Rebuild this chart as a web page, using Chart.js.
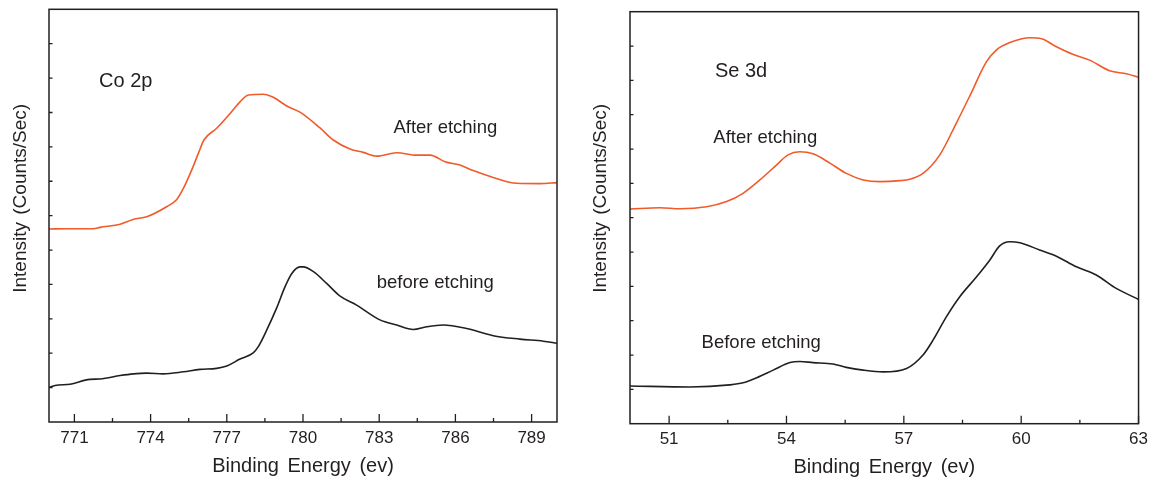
<!DOCTYPE html>
<html>
<head>
<meta charset="utf-8">
<script src="https://cdn.jsdelivr.net/npm/chart.js@4.4.1/dist/chart.umd.min.js"></script>
<style>
html,body{margin:0;padding:0;background:#fff;overflow:hidden}
#wrap{position:relative;width:1153px;height:481px;background:#fff}
canvas{position:absolute;top:0}
#c1{left:0}
#c2{left:576px}
</style>
</head>
<body>
<div id="wrap">
<canvas id="c1" width="576" height="481"></canvas>
<canvas id="c2" width="577" height="481"></canvas>
</div>
<script>
// ---------- Co 2p panel ----------
const coTicks = [771, 774, 777, 780, 783, 786, 789];
const coMinorTicks = [772.5, 775.5, 778.5, 781.5, 784.5, 787.5];
const coAfterEnergy = [770.00, 770.70, 771.74, 772.01, 772.80, 773.31, 773.85, 774.63, 775.03, 775.29, 775.62, 775.88, 776.10, 776.60, 777.13, 777.52, 777.85, 778.44, 778.83, 779.36, 779.88, 780.67, 781.19, 781.85, 782.37, 782.90, 783.69, 784.48, 785.00, 785.59, 786.18, 786.70, 787.49, 788.41, 789.33, 790.00];
const coAfterIntensity = [5.61, 5.62, 5.62, 5.66, 5.75, 5.89, 5.97, 6.26, 6.47, 6.79, 7.33, 7.81, 8.20, 8.54, 8.97, 9.31, 9.51, 9.53, 9.44, 9.19, 9.01, 8.55, 8.20, 7.94, 7.84, 7.73, 7.83, 7.76, 7.76, 7.57, 7.47, 7.31, 7.11, 6.94, 6.93, 6.96];
const coBeforeEnergy = [770.00, 770.24, 770.83, 771.61, 772.01, 772.80, 773.32, 773.85, 774.50, 775.29, 775.94, 776.60, 777.00, 777.52, 778.04, 778.24, 778.57, 778.96, 779.29, 779.56, 779.88, 780.01, 780.41, 780.93, 781.46, 782.11, 783.03, 783.69, 784.34, 784.87, 785.52, 786.44, 787.49, 788.54, 789.46, 790.00];
const coBeforeIntensity = [1.00, 1.06, 1.10, 1.24, 1.25, 1.35, 1.40, 1.42, 1.40, 1.46, 1.53, 1.56, 1.63, 1.83, 2.01, 2.19, 2.67, 3.31, 3.93, 4.32, 4.51, 4.51, 4.37, 4.03, 3.66, 3.40, 2.97, 2.82, 2.69, 2.77, 2.82, 2.72, 2.51, 2.41, 2.35, 2.29];

// ---------- Se 3d panel ----------
const seTicks = [51, 54, 57, 60, 63];
const seMinorTicks = [52.5, 55.5, 58.5, 61.5];
const seAfterEnergy = [50.00, 50.77, 51.28, 51.96, 52.47, 52.89, 53.32, 53.75, 54.04, 54.34, 54.68, 55.11, 55.53, 55.96, 56.39, 56.90, 57.15, 57.49, 57.92, 58.34, 58.68, 59.11, 59.37, 59.71, 60.22, 60.52, 60.90, 61.32, 61.75, 62.26, 62.69, 63.00];
const seAfterIntensity = [6.25, 6.29, 6.26, 6.32, 6.47, 6.71, 7.10, 7.54, 7.83, 7.92, 7.86, 7.59, 7.29, 7.10, 7.05, 7.08, 7.12, 7.29, 7.83, 8.75, 9.53, 10.54, 10.89, 11.10, 11.24, 11.21, 10.98, 10.76, 10.59, 10.28, 10.19, 10.09];
const seBeforeEnergy = [50.00, 51.53, 52.55, 52.89, 53.24, 53.66, 54.09, 54.34, 54.68, 55.19, 55.53, 55.96, 56.47, 57.07, 57.49, 57.75, 58.09, 58.43, 58.86, 59.20, 59.45, 59.71, 59.97, 60.47, 60.90, 61.41, 61.92, 62.43, 63.00];
const seBeforeIntensity = [1.10, 1.07, 1.13, 1.19, 1.34, 1.56, 1.78, 1.81, 1.78, 1.74, 1.64, 1.56, 1.51, 1.61, 2.00, 2.44, 3.12, 3.70, 4.28, 4.77, 5.18, 5.30, 5.27, 5.06, 4.88, 4.57, 4.33, 3.94, 3.62];

const xTitle = 'Binding Energy (ev)';
const yTitle = 'Intensity (Counts/Sec)';

const INK = '#231f20';
const ORANGE = '#f15a29';
const FONT = '"Liberation Sans", Arial, Helvetica, sans-serif';

function framePlugin(deco) {
  return {
    id: 'frame',
    afterDraw(chart) {
      const ctx = chart.ctx;
      const a = chart.chartArea;
      const x = chart.scales.x, y = chart.scales.y;
      ctx.save();
      ctx.strokeStyle = INK;
      ctx.lineWidth = 1.5;
      ctx.strokeRect(a.left, a.top, a.right - a.left, a.bottom - a.top);
      ctx.lineWidth = 1.3;
      ctx.beginPath();
      deco.major.forEach(v => {
        const px = x.getPixelForValue(v);
        ctx.moveTo(px, a.bottom); ctx.lineTo(px, a.bottom - 8);
      });
      deco.minor.forEach(v => {
        const px = x.getPixelForValue(v);
        ctx.moveTo(px, a.bottom); ctx.lineTo(px, a.bottom - 4);
      });
      for (let v = 1; v < 12; v++) {
        const py = y.getPixelForValue(v);
        ctx.moveTo(a.left, py); ctx.lineTo(a.left + 3.5, py);
      }
      ctx.stroke();

      ctx.fillStyle = INK;
      ctx.textAlign = 'left';
      ctx.textBaseline = 'alphabetic';
      deco.notes.forEach(n => {
        ctx.font = n.size + 'px ' + FONT;
        ctx.fillText(n.text, x.getPixelForValue(n.x), y.getPixelForValue(n.y));
      });

      ctx.font = '20px ' + FONT;
      try { ctx.wordSpacing = '3px'; } catch (e) {}
      ctx.textAlign = 'center';
      ctx.fillText(xTitle, (a.left + a.right) / 2, deco.xTitleBase);
      ctx.font = '19px ' + FONT;
      try { ctx.wordSpacing = '2px'; } catch (e) {}
      ctx.translate(deco.yTitleX, deco.yTitleY);
      ctx.rotate(-Math.PI / 2);
      ctx.fillText(yTitle, 0, 0);
      ctx.restore();
    }
  };
}

function makeChart(id, series, range, ticks, pad, yWidth, xHeight, tickPad, deco) {
  return new Chart(document.getElementById(id), {
    type: 'line',
    data: {
      datasets: series.map(s => ({
        data: s.e.map((v, i) => ({ x: v, y: s.i[i] })),
        borderColor: s.color,
        borderWidth: 1.6,
        pointRadius: 0,
        cubicInterpolationMode: 'monotone',
        fill: false
      }))
    },
    options: {
      responsive: false,
      animation: false,
      devicePixelRatio: 1,
      layout: { padding: pad },
      plugins: { legend: { display: false }, tooltip: { enabled: false } },
      scales: {
        x: {
          type: 'linear', min: range[0], max: range[1],
          afterBuildTicks: s => { s.ticks = ticks.map(v => ({ value: v })); },
          afterFit: s => { s.height = xHeight; },
          grid: { display: false, drawTicks: false },
          border: { display: false },
          ticks: { color: INK, font: { family: FONT, size: 17 }, padding: tickPad, maxRotation: 0, autoSkip: false, callback: v => String(v) }
        },
        y: {
          type: 'linear', min: 0, max: 12,
          afterFit: s => { s.width = yWidth; },
          grid: { display: false, drawTicks: false },
          border: { display: false },
          ticks: { display: false }
        }
      }
    },
    plugins: [framePlugin(deco)]
  });
}

makeChart('c1',
  [{ e: coAfterEnergy, i: coAfterIntensity, color: ORANGE },
   { e: coBeforeEnergy, i: coBeforeIntensity, color: INK }],
  [770, 790], coTicks,
  { left: 0, top: 9.3, right: 19, bottom: 0 }, 49, 59, 6,
  { major: coTicks, minor: coMinorTicks,
    notes: [
      { text: 'Co 2p', x: 771.97, y: 9.75, size: 20 },
      { text: 'After etching', x: 783.56, y: 8.41, size: 18.5 },
      { text: 'before etching', x: 782.90, y: 3.91, size: 18.5 }
    ],
    xTitleBase: 471.7, yTitleX: 25.5, yTitleY: 198.3 });

makeChart('c2',
  [{ e: seAfterEnergy, i: seAfterIntensity, color: ORANGE },
   { e: seBeforeEnergy, i: seBeforeIntensity, color: INK }],
  [50, 63], seTicks,
  { left: 0, top: 11.7, right: 14, bottom: 0 }, 54, 57.3, 5,
  { major: seTicks, minor: seMinorTicks,
    notes: [
      { text: 'Se 3d', x: 52.17, y: 10.09, size: 20 },
      { text: 'After etching', x: 52.13, y: 8.19, size: 18.5 },
      { text: 'Before etching', x: 51.83, y: 2.20, size: 18.5 }
    ],
    xTitleBase: 473.3, yTitleX: 29.5, yTitleY: 198.3 });
</script>
</body>
</html>
